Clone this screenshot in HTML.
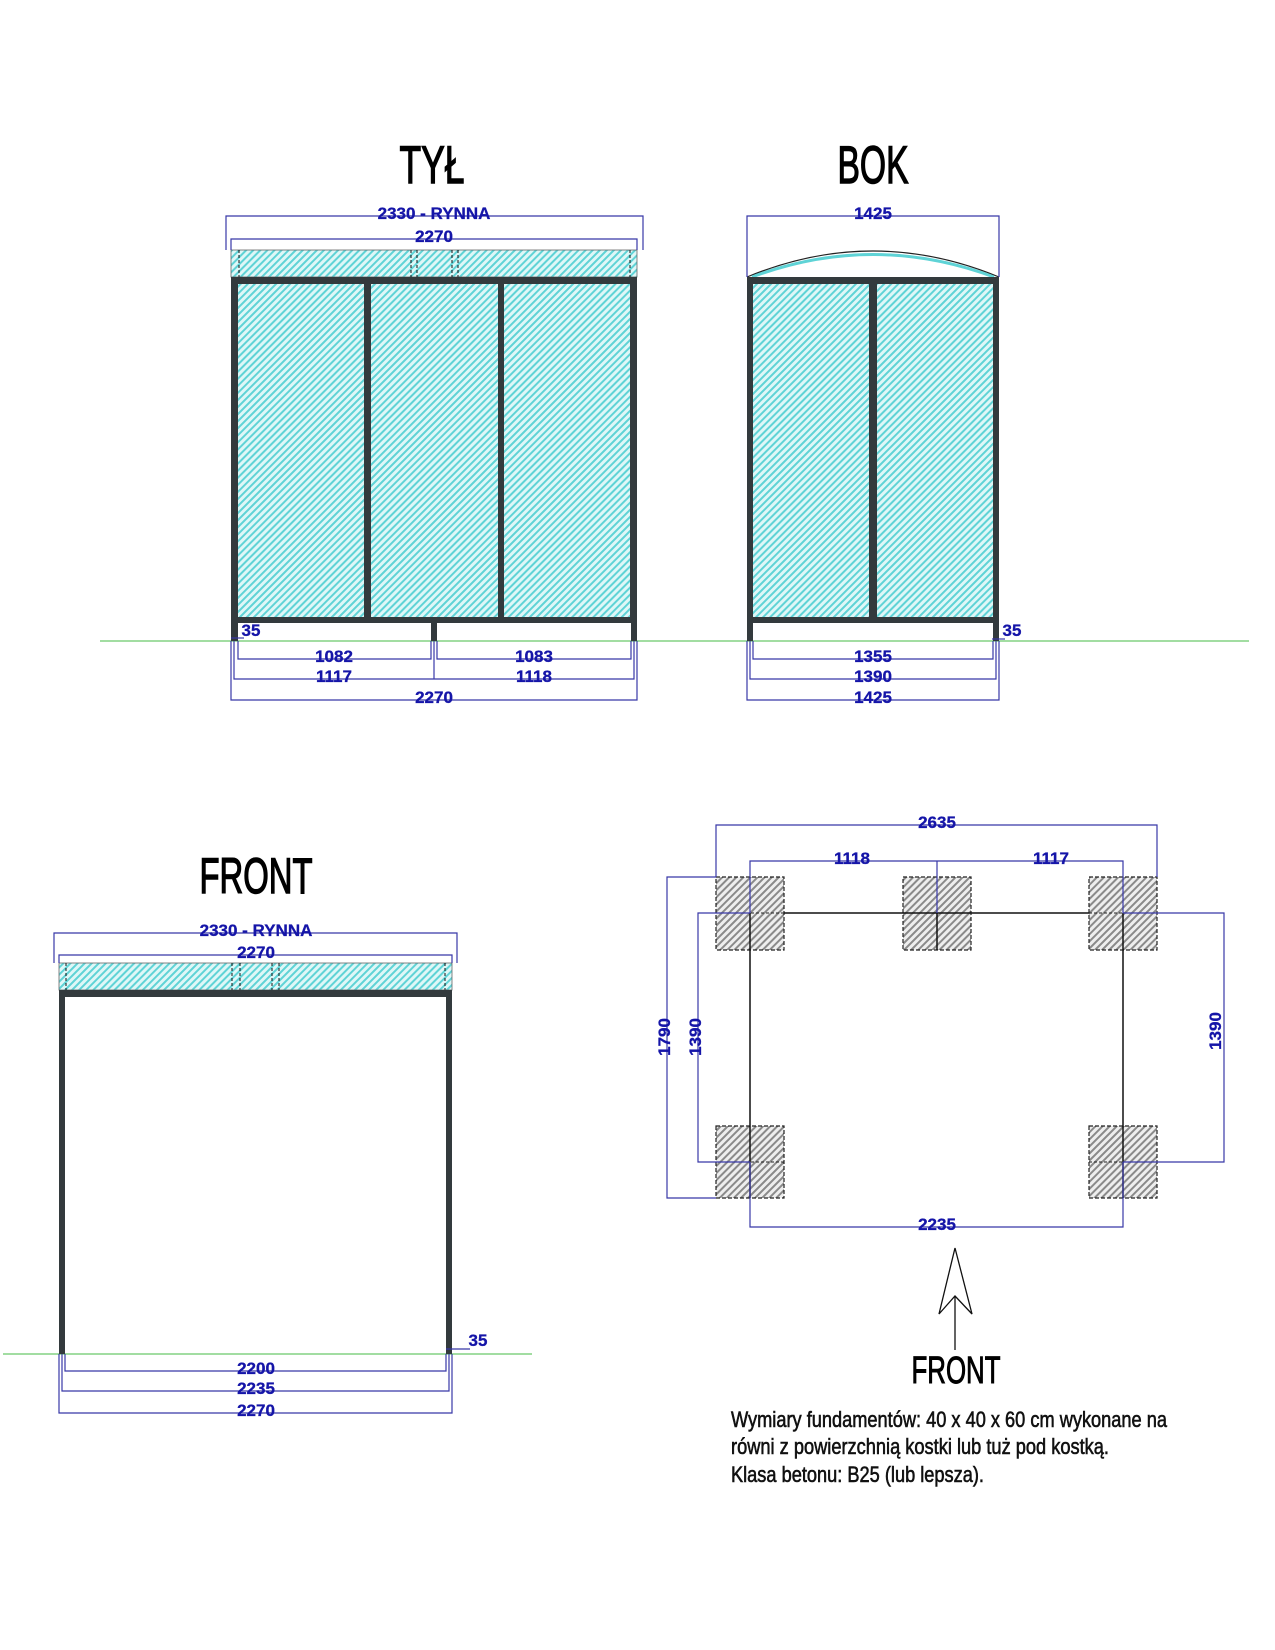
<!DOCTYPE html>
<html><head><meta charset="utf-8"><style>
html,body{margin:0;padding:0;background:#fff}
svg{display:block}
.t{font-family:"Liberation Sans Narrow","Liberation Sans",sans-serif;}
.d{font-family:"Liberation Sans Narrow","Liberation Sans",sans-serif;font-weight:bold;font-size:17px;fill:#1515a8;stroke:#1515a8;stroke-width:0.3;text-anchor:middle}
</style></head><body>
<svg width="1275" height="1650" viewBox="0 0 1275 1650" xmlns="http://www.w3.org/2000/svg">
<defs>
<pattern id="cy" width="5" height="5" patternUnits="userSpaceOnUse" patternTransform="rotate(45)">
<rect width="5" height="5" fill="#dff7f7"/><rect width="2" height="5" fill="#5fd3d6"/></pattern>
<pattern id="gr" width="5" height="5" patternUnits="userSpaceOnUse" patternTransform="rotate(45)">
<rect width="5" height="5" fill="#eee"/><rect width="2" height="5" fill="#8a8a8a"/></pattern>
</defs>

<line x1="100" y1="641" x2="1249" y2="641" stroke="#44bb44" stroke-width="1"/>
<line x1="3" y1="1354" x2="532" y2="1354" stroke="#44bb44" stroke-width="1"/>

<g stroke="#000" stroke-width="1.4">
<text class="t" x="432" y="183" font-size="53" text-anchor="middle" textLength="65" lengthAdjust="spacingAndGlyphs">TYŁ</text>
<text class="t" x="873" y="183" font-size="53" text-anchor="middle" textLength="71" lengthAdjust="spacingAndGlyphs">BOK</text>
<text class="t" x="256" y="893" font-size="50" text-anchor="middle" textLength="113" lengthAdjust="spacingAndGlyphs">FRONT</text>
<text class="t" x="956" y="1383" font-size="38" text-anchor="middle" textLength="89" lengthAdjust="spacingAndGlyphs" stroke-width="1">FRONT</text>
</g>

<!-- TYŁ -->
<rect x="231" y="250" width="406" height="27" fill="url(#cy)" stroke="#666" stroke-width="0.8"/>
<g stroke="#111" stroke-width="1" stroke-dasharray="3,2">
<line x1="239" y1="250" x2="239" y2="277"/><line x1="411" y1="250" x2="411" y2="277"/><line x1="417" y1="250" x2="417" y2="277"/>
<line x1="452" y1="250" x2="452" y2="277"/><line x1="458" y1="250" x2="458" y2="277"/><line x1="630" y1="250" x2="630" y2="277"/></g>
<rect x="231" y="277" width="406" height="346" fill="#333a3d"/>
<rect x="238" y="284" width="126" height="333" fill="url(#cy)"/>
<rect x="371" y="284" width="127" height="333" fill="url(#cy)"/>
<rect x="504" y="284" width="126" height="333" fill="url(#cy)"/>
<rect x="231" y="623" width="7" height="18" fill="#333a3d"/>
<rect x="431" y="623" width="6" height="18" fill="#333a3d"/>
<rect x="631" y="623" width="6" height="18" fill="#333a3d"/>
<g stroke="#3838a8" fill="none" stroke-width="1.2">
<polyline points="226,250 226,216 643,216 643,250"/>
<polyline points="231,250 231,239 637,239 637,250"/>
<polyline points="238,641 238,659 431,659 431,641"/>
<polyline points="437,641 437,659 631,659 631,641"/>
<polyline points="234,641 234,679 634,679 634,641"/>
<line x1="434" y1="641" x2="434" y2="679"/>
<polyline points="231,641 231,700 637,700 637,641"/>
<line x1="231" y1="638" x2="244" y2="638"/>
</g>
<text class="d" x="434" y="219">2330 - RYNNA</text>
<text class="d" x="434" y="242">2270</text>
<text class="d" x="251" y="636">35</text>
<text class="d" x="334" y="662">1082</text>
<text class="d" x="534" y="662">1083</text>
<text class="d" x="334" y="682">1117</text>
<text class="d" x="534" y="682">1118</text>
<text class="d" x="434" y="703">2270</text>

<!-- BOK -->
<path d="M747,277 Q873,225 999,277" fill="none" stroke="#222" stroke-width="1.2"/>
<path d="M752,277 Q873,232 994,277" fill="none" stroke="#5fd3d6" stroke-width="3"/>
<rect x="747" y="277" width="252" height="346" fill="#333a3d"/>
<rect x="753" y="284" width="116" height="333" fill="url(#cy)"/>
<rect x="877" y="284" width="116" height="333" fill="url(#cy)"/>
<rect x="747" y="623" width="6" height="18" fill="#333a3d"/>
<rect x="993" y="623" width="6" height="18" fill="#333a3d"/>
<g stroke="#3838a8" fill="none" stroke-width="1.2">
<polyline points="747,277 747,216 999,216 999,277"/>
<polyline points="753,641 753,659 993,659 993,641"/>
<polyline points="750,641 750,679 996,679 996,641"/>
<polyline points="747,641 747,700 999,700 999,641"/>
<line x1="992" y1="639" x2="1005" y2="639"/>
</g>
<text class="d" x="873" y="219">1425</text>
<text class="d" x="1012" y="636">35</text>
<text class="d" x="873" y="662">1355</text>
<text class="d" x="873" y="682">1390</text>
<text class="d" x="873" y="703">1425</text>

<!-- FRONT -->
<rect x="59" y="963" width="393" height="27" fill="url(#cy)" stroke="#666" stroke-width="0.8"/>
<g stroke="#111" stroke-width="1" stroke-dasharray="3,2">
<line x1="66" y1="963" x2="66" y2="990"/><line x1="232" y1="963" x2="232" y2="990"/><line x1="240" y1="963" x2="240" y2="990"/>
<line x1="272" y1="963" x2="272" y2="990"/><line x1="279" y1="963" x2="279" y2="990"/><line x1="445" y1="963" x2="445" y2="990"/></g>
<rect x="59" y="990" width="393" height="7" fill="#333a3d"/>
<rect x="59" y="990" width="6" height="364" fill="#333a3d"/>
<rect x="446" y="990" width="6" height="364" fill="#333a3d"/>
<g stroke="#3838a8" fill="none" stroke-width="1.2">
<polyline points="54,963 54,933 457,933 457,963"/>
<polyline points="59,963 59,955 452,955 452,963"/>
<polyline points="65,1354 65,1371 446,1371 446,1354"/>
<polyline points="62,1354 62,1391 449,1391 449,1354"/>
<polyline points="59,1354 59,1413 452,1413 452,1354"/>
<line x1="446" y1="1349" x2="470" y2="1349"/>
</g>
<text class="d" x="256" y="936">2330 - RYNNA</text>
<text class="d" x="256" y="958">2270</text>
<text class="d" x="478" y="1346">35</text>
<text class="d" x="256" y="1374">2200</text>
<text class="d" x="256" y="1394">2235</text>
<text class="d" x="256" y="1416">2270</text>

<!-- PLAN -->
<g fill="url(#gr)" stroke="#222" stroke-width="1.2" stroke-dasharray="4,2">
<rect x="716" y="877" width="68" height="73"/>
<rect x="903" y="877" width="68" height="73"/>
<rect x="1089" y="877" width="68" height="73"/>
<rect x="716" y="1126" width="68" height="72"/>
<rect x="1089" y="1126" width="68" height="72"/>
</g>
<g stroke="#222" stroke-width="1" stroke-dasharray="3,2">
<line x1="716" y1="913" x2="784" y2="913"/><line x1="903" y1="913" x2="971" y2="913"/><line x1="1089" y1="913" x2="1157" y2="913"/>
<line x1="716" y1="1162" x2="784" y2="1162"/><line x1="1089" y1="1162" x2="1157" y2="1162"/>
</g>
<g stroke="#111" stroke-width="1.5">
<line x1="784" y1="913" x2="1089" y2="913"/>
<line x1="750" y1="913" x2="750" y2="1198"/>
<line x1="1123" y1="913" x2="1123" y2="1198"/>
<line x1="937" y1="913" x2="937" y2="950"/>
</g>
<g stroke="#3838a8" fill="none" stroke-width="1.2">
<polyline points="716,877 716,825 1157,825 1157,877"/>
<polyline points="750,913 750,861 1123,861 1123,913"/>
<line x1="937" y1="861" x2="937" y2="913"/>
<polyline points="716,877 667,877 667,1198 716,1198"/>
<polyline points="750,913 698,913 698,1162 750,1162"/>
<polyline points="1123,913 1224,913 1224,1162 1123,1162"/>
<polyline points="750,1162 750,1227 1123,1227 1123,1162"/>
</g>
<text class="d" x="937" y="828">2635</text>
<text class="d" x="852" y="864">1118</text>
<text class="d" x="1051" y="864">1117</text>
<text class="d" x="937" y="1230">2235</text>
<text class="d" transform="translate(670,1037) rotate(-90)">1790</text>
<text class="d" transform="translate(701,1037) rotate(-90)">1390</text>
<text class="d" transform="translate(1221,1031) rotate(-90)">1390</text>

<g stroke="#111" stroke-width="1.3" fill="none">
<polygon points="955,1248 972,1314 955,1296 939,1314"/>
<line x1="955" y1="1296" x2="955" y2="1350"/>
</g>

<g class="t" font-size="22" fill="#111" stroke="#111" stroke-width="0.6">
<text x="731" y="1427" textLength="436" lengthAdjust="spacingAndGlyphs">Wymiary fundamentów: 40 x 40 x 60 cm wykonane na</text>
<text x="731" y="1454" textLength="378" lengthAdjust="spacingAndGlyphs">równi z powierzchnią kostki lub tuż pod kostką.</text>
<text x="731" y="1482" textLength="253" lengthAdjust="spacingAndGlyphs">Klasa betonu: B25 (lub lepsza).</text>
</g>
</svg>
</body></html>
